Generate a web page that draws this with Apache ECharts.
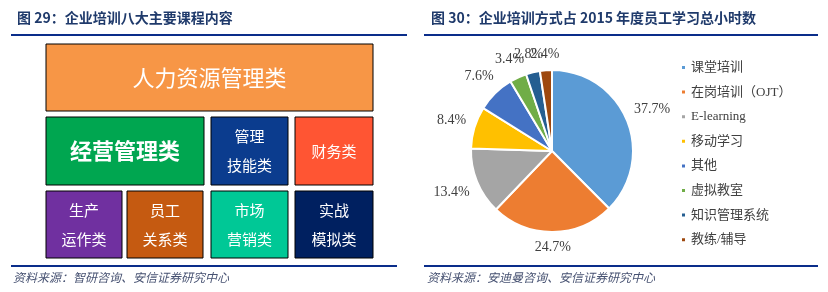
<!DOCTYPE html>
<html><head><meta charset="utf-8">
<script src="https://cdn.jsdelivr.net/npm/echarts@6/dist/echarts.min.js"></script>
<style>html,body{margin:0;padding:0;background:#fff}#c{width:828px;height:292px}</style>
</head><body><div id="c"></div>
<script>
// Left panel: course categories
const courseNames = ['人力资源管理类', '经营管理类', '管理\n技能类', '财务类', '生产\n运作类', '员工\n关系类', '市场\n营销类', '实战\n模拟类'];
const courseColors = ['#F79646', '#00A650', '#0B3C8E', '#FF5533', '#7030A0', '#C55A11', '#00C896', '#002060'];
// Right panel: training methods share of 2015 employee learning hours
const methodNames = ['课堂培训', '在岗培训（OJT）', 'E-learning', '移动学习', '其他', '虚拟教室', '知识管理系统', '教练/辅导'];
const methodValues = [37.7, 24.7, 13.4, 8.4, 7.6, 3.4, 2.8, 2.4];
const methodColors = ['#5B9BD5', '#ED7D31', '#A5A5A5', '#FFC000', '#4472C4', '#70AD47', '#255E91', '#9E480E'];

const CJK = '"Noto Sans CJK SC", "Noto Sans", sans-serif';
const SERIF = '"Liberation Serif", "Noto Sans CJK SC", serif';

// block layout (diagram geometry): x, y, w, h, fontSize, bold
const blocks = [
  [46, 44, 327, 67, 22, false],
  [46, 117, 158, 68, 22, true],
  [211, 117, 77, 68, 15, false],
  [295, 117, 78, 68, 15, false],
  [46, 191, 76, 67, 15, false],
  [127, 191, 76, 67, 15, false],
  [211, 191, 77, 67, 15, false],
  [295, 191, 78, 67, 15, false]
];
const graphics = [];
blocks.forEach((b, i) => {
  const c = echarts.color.modifyHSL(courseColors[i], null, null, -0.06);
  graphics.push({
    type: 'rect', shape: {x: b[0], y: b[1], width: b[2], height: b[3]},
    style: {fill: courseColors[i], stroke: c, lineWidth: 1}
  });
  graphics.push({
    type: 'text', x: b[0] + b[2] / 2, y: b[1] + b[3] / 2,
    style: {text: courseNames[i], fill: '#fff', font: (b[5] ? 'bold ' : '') + b[4] + 'px ' + CJK,
      align: 'center', verticalAlign: 'middle', lineHeight: 29}
  });
});
// rules
[[11, 35, 407], [424, 35, 818], [11, 266, 397], [424, 266, 818]].forEach(l => {
  graphics.push({type: 'line', shape: {x1: l[0], y1: l[1], x2: l[2], y2: l[1]}, style: {stroke: '#0A2D8A', lineWidth: 2}});
});
graphics.push({type: 'text', x: 13, y: 277, style: {text: '资料来源：智研咨询、安信证券研究中心', fill: '#475272', font: 'italic 12px ' + CJK, verticalAlign: 'middle'}});
graphics.push({type: 'text', x: 427, y: 277, style: {text: '资料来源：安迪曼咨询、安信证券研究中心', fill: '#475272', font: 'italic 12px ' + CJK, verticalAlign: 'middle'}});

const CX = 552, CY = 151, R = 81, GAP = 8;
const total = methodValues.reduce((s, v) => s + v, 0);

const chart = echarts.init(document.getElementById('c'), null, {renderer: 'canvas'});
chart.setOption({
  animation: false,
  color: methodColors,
  title: [
    {text: '图 29：企业培训八大主要课程内容', left: 12, top: 6, textStyle: {fontFamily: CJK, fontSize: 14, fontWeight: 'bold', color: '#1F3A6B'}},
    {text: '图 30：企业培训方式占 2015 年度员工学习总小时数', left: 426, top: 6, textStyle: {fontFamily: CJK, fontSize: 14, fontWeight: 'bold', color: '#1F3A6B'}}
  ],
  legend: {
    orient: 'vertical', left: 675, top: 56, itemWidth: 5, itemHeight: 5, itemGap: 11.6,
    icon: 'rect', itemGap: 11.6,
    textStyle: {fontFamily: SERIF, fontSize: 13, color: '#404040'},
    data: methodNames
  },
  graphic: graphics,
  series: [{
    type: 'pie', center: [CX, CY], radius: R, startAngle: 90, clockwise: true,
    avoidLabelOverlap: false,
    itemStyle: {borderColor: '#fff', borderWidth: 2},
    label: {show: true, position: 'outside', formatter: p => p.value.toFixed(1) + '%',
      fontFamily: SERIF, fontSize: 14, color: '#404040'},
    labelLine: {show: false, length: 10, length2: 0},
    labelLayout: function (p) {
      let cum = 0;
      for (let j = 0; j < p.dataIndex; j++) cum += methodValues[j];
      const a = (cum + methodValues[p.dataIndex] / 2) / total * Math.PI * 2;
      const dx = Math.sin(a), dy = -Math.cos(a);
      const ext = p.labelRect.width / 2 * Math.abs(dx) + p.labelRect.height / 2 * Math.abs(dy);
      const d = R + GAP + ext;
      return {x: CX + d * dx, y: CY + d * dy, align: 'center', verticalAlign: 'middle', hideOverlap: false};
    },
    data: methodNames.map((n, i) => ({name: n, value: methodValues[i]}))
  }]
});
</script></body></html>
